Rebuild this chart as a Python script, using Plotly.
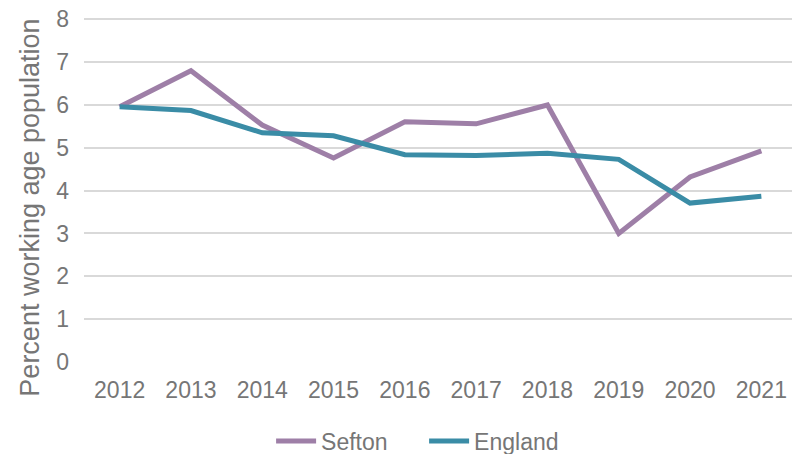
import plotly.graph_objects as go

years = ['2012', '2013', '2014', '2015', '2016', '2017', '2018', '2019', '2020', '2021']
sefton = [5.96, 6.80, 5.53, 4.76, 5.61, 5.56, 6.00, 3.00, 4.32, 4.93]
england = [5.96, 5.87, 5.35, 5.28, 4.84, 4.82, 4.87, 4.73, 3.71, 3.87]

grey = '#767676'

fig = go.Figure()
fig.add_trace(go.Scatter(x=years, y=sefton, mode='lines', name='Sefton',
                         line=dict(color='#9e7fa7', width=5)))
fig.add_trace(go.Scatter(x=years, y=england, mode='lines', name='England',
                         line=dict(color='#3a8ca6', width=5)))

# page body has an 8px margin, so the figure is 8px smaller each way
fig.update_layout(
    width=792, height=446,
    margin=dict(l=76, r=3, t=10, b=92, autoexpand=False),
    paper_bgcolor='white', plot_bgcolor='white',
    font=dict(family='Liberation Sans, Arial', size=23, color=grey),
    legend=dict(orientation='h', x=0.477, xanchor='center', y=-0.23, yanchor='middle',
                font=dict(size=23, color=grey), itemwidth=40, entrywidth=98),
    showlegend=True,
)
# y title sits a bit lower than the axis centre, so use an annotation
fig.add_annotation(text='Percent working age population', textangle=-90,
                   xref='paper', yref='paper', x=-0.077, y=0.449,
                   xanchor='center', yanchor='middle', showarrow=False,
                   font=dict(size=27, color=grey))
fig.update_xaxes(type='category', range=[-0.5, 9.5], showgrid=False, showline=False, ticks='',
                 ticklabelstandoff=12, tickfont=dict(size=23, color=grey))
fig.update_yaxes(range=[0, 8.03], tickvals=[0, 1, 2, 3, 4, 5, 6, 7, 8], showgrid=True,
                 gridcolor='#d9d9d9', gridwidth=1.5,
                 zeroline=False, showline=False, ticks='', ticklabelstandoff=14,
                 ticklabeloverflow='allow', tickfont=dict(size=23, color=grey))

fig.write_html("out.html")
